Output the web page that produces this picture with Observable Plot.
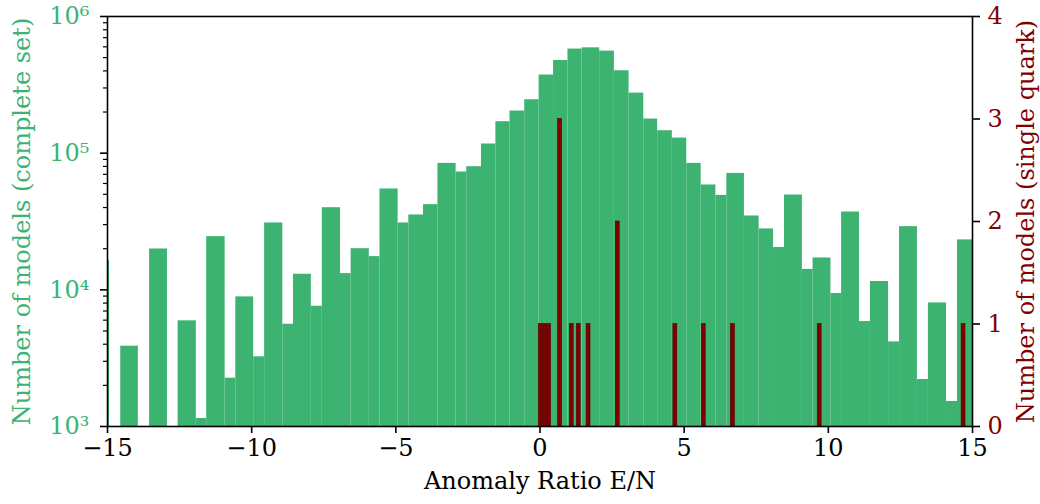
<!DOCTYPE html>
<html><head><meta charset="utf-8">
<script src="https://cdn.jsdelivr.net/npm/d3@7"></script>
<script src="https://cdn.jsdelivr.net/npm/@observablehq/plot@0.6"></script>
<style>
body{margin:0;background:#fff;}
#wrap{position:relative;width:1040px;height:504px;}
#wrap svg{position:absolute;left:0;top:0;}
</style></head><body><div id="wrap"></div>
<script>
// Histogram of the complete set (bin edges and counts)
const binEdges = [-15.54, -14.93, -14.54, -13.93, -13.54, -12.92, -12.55, -11.92, -11.56, -10.92,
  -10.55, -9.93, -9.55, -8.92, -8.55, -7.93, -7.55, -6.92, -6.55, -5.92,
  -5.55, -4.92, -4.55, -4.04, -3.54, -2.91, -2.54, -2.03, -1.53, -1.04,
  -0.53, -0.03, 0.47, 0.97, 1.46, 2.07, 2.58, 3.09, 3.60, 4.08,
  4.59, 5.09, 5.59, 6.10, 6.48, 7.09, 7.60, 8.10, 8.48, 9.10,
  9.47, 10.09, 10.46, 11.08, 11.46, 12.09, 12.47, 13.09, 13.47, 14.10,
  14.48, 15.09];
const completeCounts = [16400, 0, 3870, 0, 19900, 0, 5930, 1145, 24500, 2256,
  8880, 3235, 30860, 5600, 13000, 7580, 39900, 13150, 20000, 17500,
  54700, 30860, 35300, 42000, 84200, 72800, 79600, 116700, 169900, 203400,
  246000, 373000, 476700, 577800, 590000, 558000, 401000, 275000, 177800, 146000,
  129000, 84200, 58500, 49100, 71100, 34700, 27900, 20400, 49400, 14100,
  17100, 9400, 37100, 5860, 11500, 4160, 29000, 2207, 8020, 1524,
  23200];
// Single-quark models
const singleQuarkEN = [0.026, 0.177, 0.315, 0.695, 1.101, 1.344, 1.684, 2.697, 4.694, 5.68, 6.69, 9.70, 14.69];
const singleQuarkCounts = [1, 1, 1, 3, 1, 1, 1, 2, 1, 1, 1, 1, 1];

const xTicks = [-15, -10, -5, 0, 5, 10, 15];
const leftTicks = [1e3, 1e4, 1e5, 1e6];
const leftTickLabels = ["10³", "10⁴", "10⁵", "10⁶"];
const rightTicks = [0, 1, 2, 3, 4];
const xLabel = "Anomaly Ratio E/N";
const leftLabel = "Number of models (complete set)";
const rightLabel = "Number of models (single quark)";

const green = "#3cb371", red = "#800000";
const W = 1040, H = 504;
const margins = {marginLeft: 107, marginRight: 68, marginTop: 16, marginBottom: 78};
const fontFamily = "DejaVu Serif";
const fs = 24;
const style = {fontFamily, fontSize: fs + "px", background: "transparent", overflow: "visible"};

const bins = completeCounts.map((c, i) => ({x1: binEdges[i], x2: binEdges[i + 1], count: c})).filter(d => d.count > 0);
const sq = singleQuarkEN.map((e, i) => ({en: e, count: singleQuarkCounts[i]}));
const minor = [];
for (let e = 3; e < 6; e++) for (let m = 2; m < 10; m++) minor.push(m * 10 ** e);
const halfW = 0.068;

const base = Plot.plot({
  width: W, height: H, ...margins, style,
  x: {domain: [-15, 15], axis: null},
  y: {type: "log", domain: [1e3, 1e6]},
  marks: [
    Plot.rectY(bins, {x1: "x1", x2: "x2", y1: 1, y2: "count", fill: green, clip: true}),
    Plot.axisY({ticks: minor, tickSize: 4, tickFormat: () => "", stroke: "black", strokeWidth: 1.2, label: null}),
    Plot.axisY({ticks: leftTicks, tickSize: 7, tickPadding: 11, strokeWidth: 1.6,
      tickFormat: d => leftTickLabels[leftTicks.indexOf(d)], stroke: "black", fill: green, label: null, fontSize: fs}),
    Plot.text([leftLabel], {frameAnchor: "left", text: d => d, rotate: -90, textAnchor: "middle", dx: -85, fill: green, fontSize: fs})
  ]
});

const over = Plot.plot({
  width: W, height: H, ...margins, style,
  x: {domain: [-15, 15]},
  y: {domain: [0, 4]},
  marks: [
    Plot.rectY(sq, {x1: d => d.en - halfW, x2: d => d.en + halfW, y1: 0, y2: "count", fill: red, stroke: "#5a0000", strokeWidth: 0.6}),
    Plot.frame({stroke: "black", strokeWidth: 1.6}),
    Plot.axisX({ticks: xTicks, tickSize: 7, tickPadding: 5, strokeWidth: 1.6, stroke: "black", fill: "black",
      tickFormat: d => d < 0 ? "\u2212" + (-d) : String(d), label: null}),
    Plot.axisY({anchor: "right", ticks: rightTicks, tickSize: 7, tickPadding: 8, strokeWidth: 1.6,
      stroke: "black", fill: red, label: null, tickFormat: d => String(d)}),
    Plot.text([xLabel], {frameAnchor: "bottom", text: d => d, dy: 62, fill: "black", fontSize: fs}),
    Plot.text([rightLabel], {frameAnchor: "right", text: d => d, rotate: -90, textAnchor: "middle", dx: 54, fill: red, fontSize: fs})
  ]
});

document.getElementById("wrap").append(base, over);
</script></body></html>
